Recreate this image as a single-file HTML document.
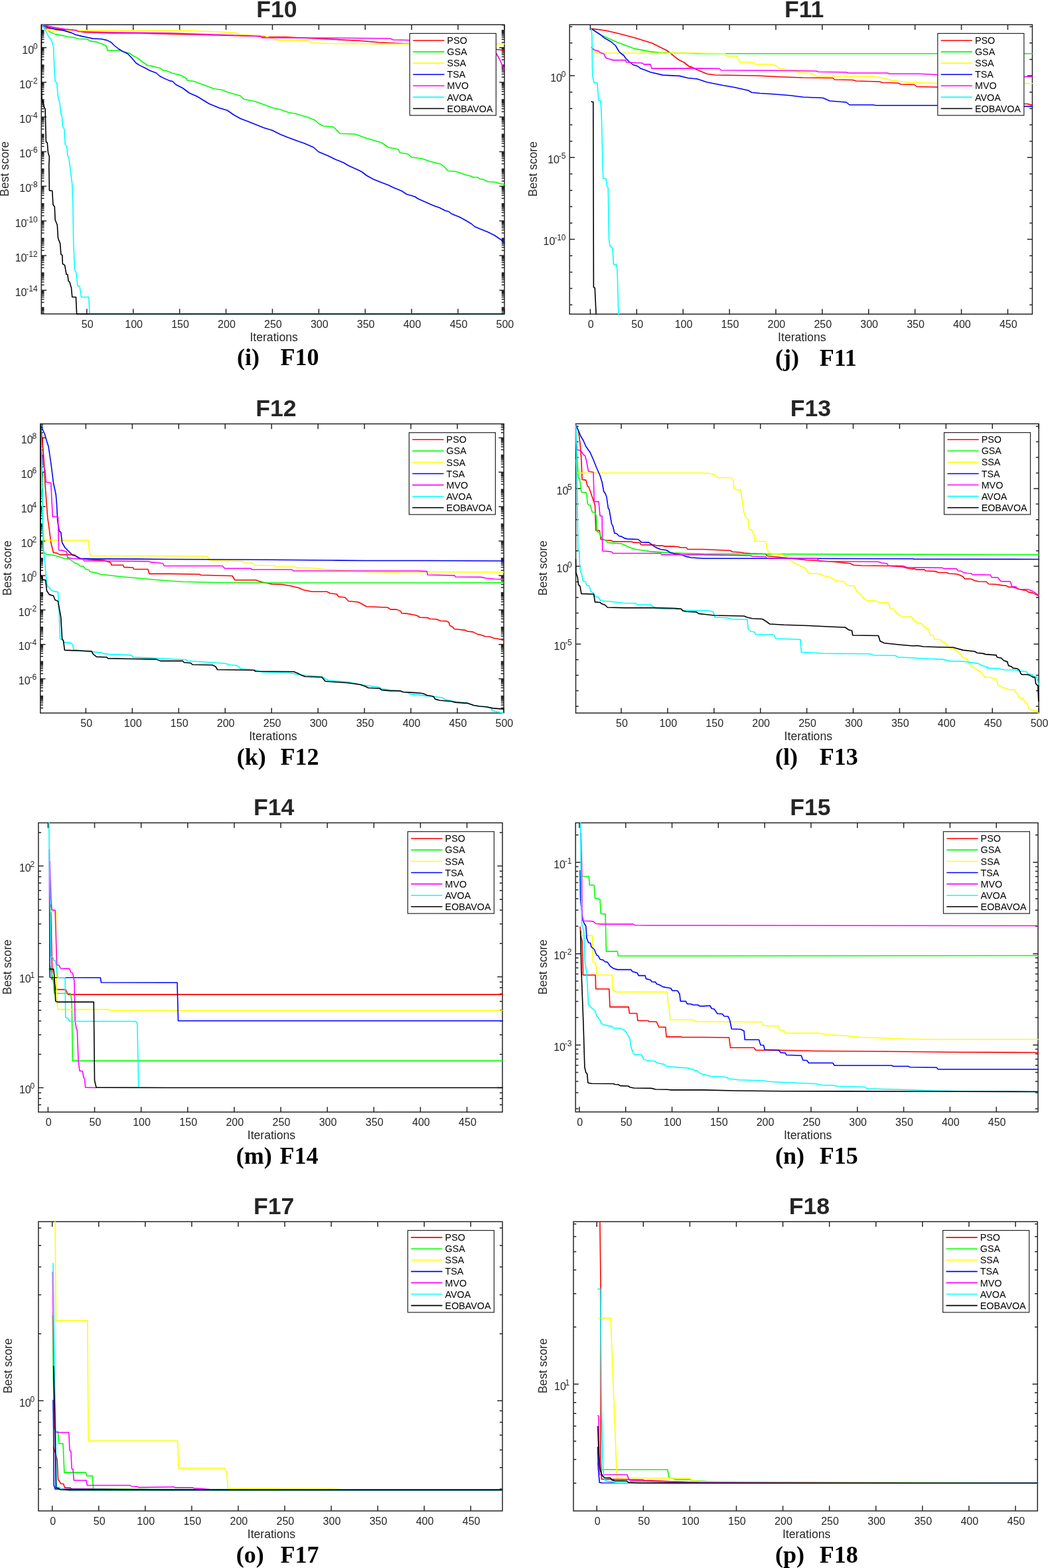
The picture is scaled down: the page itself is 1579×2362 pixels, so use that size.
<!DOCTYPE html>
<html><head><meta charset="utf-8"><title>Convergence curves F10-F18</title>
<style>html,body{margin:0;padding:0;background:#fff;overflow:hidden;}svg{display:block;}text{font-family:"Liberation Sans",Arial,sans-serif;fill:#262626;}.tk{font-size:16px;}.sup{font-size:12px;}.lab{font-size:17.6px;}.lg{font-size:14.3px;fill:#000;}.ti{font-size:35.6px;font-weight:bold;}.cap{font-family:"Liberation Serif","Times New Roman",serif;font-size:36px;font-weight:bold;fill:#000;}</style></head><body>
<svg width="1579" height="2362" viewBox="0 0 1579 2362">
<rect width="1579" height="2362" fill="#fff"/>
<clipPath id="c0"><rect x="61.5" y="36.4" width="699.3" height="437.3"/></clipPath>
<path d="M130.81 472.9V465.2M130.81 37.2V44.9M200.72 472.9V465.2M200.72 37.2V44.9M270.63 472.9V465.2M270.63 37.2V44.9M340.54 472.9V465.2M340.54 37.2V44.9M410.45 472.9V465.2M410.45 37.2V44.9M480.36 472.9V465.2M480.36 37.2V44.9M550.27 472.9V465.2M550.27 37.2V44.9M620.18 472.9V465.2M620.18 37.2V44.9M690.09 472.9V465.2M690.09 37.2V44.9M760 472.9V465.2M760 37.2V44.9M62.3 471.16H66.5M760 471.16H755.8M62.3 469.09H66.5M760 469.09H755.8M62.3 467.34H66.5M760 467.34H755.8M62.3 465.83H66.5M760 465.83H755.8M62.3 464.49H66.5M760 464.49H755.8M62.3 463.3H66.5M760 463.3H755.8M62.3 455.44H66.5M760 455.44H755.8M62.3 450.85H66.5M760 450.85H755.8M62.3 447.59H66.5M760 447.59H755.8M62.3 445.06H66.5M760 445.06H755.8M62.3 442.99H66.5M760 442.99H755.8M62.3 441.24H66.5M760 441.24H755.8M62.3 439.73H66.5M760 439.73H755.8M62.3 438.39H66.5M760 438.39H755.8M62.3 437.2H70M760 437.2H752.3M62.3 429.34H66.5M760 429.34H755.8M62.3 424.75H66.5M760 424.75H755.8M62.3 421.49H66.5M760 421.49H755.8M62.3 418.96H66.5M760 418.96H755.8M62.3 416.89H66.5M760 416.89H755.8M62.3 415.14H66.5M760 415.14H755.8M62.3 413.63H66.5M760 413.63H755.8M62.3 412.29H66.5M760 412.29H755.8M62.3 411.1H66.5M760 411.1H755.8M62.3 403.24H66.5M760 403.24H755.8M62.3 398.65H66.5M760 398.65H755.8M62.3 395.39H66.5M760 395.39H755.8M62.3 392.86H66.5M760 392.86H755.8M62.3 390.79H66.5M760 390.79H755.8M62.3 389.04H66.5M760 389.04H755.8M62.3 387.53H66.5M760 387.53H755.8M62.3 386.19H66.5M760 386.19H755.8M62.3 385H70M760 385H752.3M62.3 377.14H66.5M760 377.14H755.8M62.3 372.55H66.5M760 372.55H755.8M62.3 369.29H66.5M760 369.29H755.8M62.3 366.76H66.5M760 366.76H755.8M62.3 364.69H66.5M760 364.69H755.8M62.3 362.94H66.5M760 362.94H755.8M62.3 361.43H66.5M760 361.43H755.8M62.3 360.09H66.5M760 360.09H755.8M62.3 358.9H66.5M760 358.9H755.8M62.3 351.04H66.5M760 351.04H755.8M62.3 346.45H66.5M760 346.45H755.8M62.3 343.19H66.5M760 343.19H755.8M62.3 340.66H66.5M760 340.66H755.8M62.3 338.59H66.5M760 338.59H755.8M62.3 336.84H66.5M760 336.84H755.8M62.3 335.33H66.5M760 335.33H755.8M62.3 333.99H66.5M760 333.99H755.8M62.3 332.8H70M760 332.8H752.3M62.3 324.94H66.5M760 324.94H755.8M62.3 320.35H66.5M760 320.35H755.8M62.3 317.09H66.5M760 317.09H755.8M62.3 314.56H66.5M760 314.56H755.8M62.3 312.49H66.5M760 312.49H755.8M62.3 310.74H66.5M760 310.74H755.8M62.3 309.23H66.5M760 309.23H755.8M62.3 307.89H66.5M760 307.89H755.8M62.3 306.7H66.5M760 306.7H755.8M62.3 298.84H66.5M760 298.84H755.8M62.3 294.25H66.5M760 294.25H755.8M62.3 290.99H66.5M760 290.99H755.8M62.3 288.46H66.5M760 288.46H755.8M62.3 286.39H66.5M760 286.39H755.8M62.3 284.64H66.5M760 284.64H755.8M62.3 283.13H66.5M760 283.13H755.8M62.3 281.79H66.5M760 281.79H755.8M62.3 280.6H70M760 280.6H752.3M62.3 272.74H66.5M760 272.74H755.8M62.3 268.15H66.5M760 268.15H755.8M62.3 264.89H66.5M760 264.89H755.8M62.3 262.36H66.5M760 262.36H755.8M62.3 260.29H66.5M760 260.29H755.8M62.3 258.54H66.5M760 258.54H755.8M62.3 257.03H66.5M760 257.03H755.8M62.3 255.69H66.5M760 255.69H755.8M62.3 254.5H66.5M760 254.5H755.8M62.3 246.64H66.5M760 246.64H755.8M62.3 242.05H66.5M760 242.05H755.8M62.3 238.79H66.5M760 238.79H755.8M62.3 236.26H66.5M760 236.26H755.8M62.3 234.19H66.5M760 234.19H755.8M62.3 232.44H66.5M760 232.44H755.8M62.3 230.93H66.5M760 230.93H755.8M62.3 229.59H66.5M760 229.59H755.8M62.3 228.4H70M760 228.4H752.3M62.3 220.54H66.5M760 220.54H755.8M62.3 215.95H66.5M760 215.95H755.8M62.3 212.69H66.5M760 212.69H755.8M62.3 210.16H66.5M760 210.16H755.8M62.3 208.09H66.5M760 208.09H755.8M62.3 206.34H66.5M760 206.34H755.8M62.3 204.83H66.5M760 204.83H755.8M62.3 203.49H66.5M760 203.49H755.8M62.3 202.3H66.5M760 202.3H755.8M62.3 194.44H66.5M760 194.44H755.8M62.3 189.85H66.5M760 189.85H755.8M62.3 186.59H66.5M760 186.59H755.8M62.3 184.06H66.5M760 184.06H755.8M62.3 181.99H66.5M760 181.99H755.8M62.3 180.24H66.5M760 180.24H755.8M62.3 178.73H66.5M760 178.73H755.8M62.3 177.39H66.5M760 177.39H755.8M62.3 176.2H70M760 176.2H752.3M62.3 168.34H66.5M760 168.34H755.8M62.3 163.75H66.5M760 163.75H755.8M62.3 160.49H66.5M760 160.49H755.8M62.3 157.96H66.5M760 157.96H755.8M62.3 155.89H66.5M760 155.89H755.8M62.3 154.14H66.5M760 154.14H755.8M62.3 152.63H66.5M760 152.63H755.8M62.3 151.29H66.5M760 151.29H755.8M62.3 150.1H66.5M760 150.1H755.8M62.3 142.24H66.5M760 142.24H755.8M62.3 137.65H66.5M760 137.65H755.8M62.3 134.39H66.5M760 134.39H755.8M62.3 131.86H66.5M760 131.86H755.8M62.3 129.79H66.5M760 129.79H755.8M62.3 128.04H66.5M760 128.04H755.8M62.3 126.53H66.5M760 126.53H755.8M62.3 125.19H66.5M760 125.19H755.8M62.3 124H70M760 124H752.3M62.3 116.14H66.5M760 116.14H755.8M62.3 111.55H66.5M760 111.55H755.8M62.3 108.29H66.5M760 108.29H755.8M62.3 105.76H66.5M760 105.76H755.8M62.3 103.69H66.5M760 103.69H755.8M62.3 101.94H66.5M760 101.94H755.8M62.3 100.43H66.5M760 100.43H755.8M62.3 99.09H66.5M760 99.09H755.8M62.3 97.9H66.5M760 97.9H755.8M62.3 90.04H66.5M760 90.04H755.8M62.3 85.45H66.5M760 85.45H755.8M62.3 82.19H66.5M760 82.19H755.8M62.3 79.66H66.5M760 79.66H755.8M62.3 77.59H66.5M760 77.59H755.8M62.3 75.84H66.5M760 75.84H755.8M62.3 74.33H66.5M760 74.33H755.8M62.3 72.99H66.5M760 72.99H755.8M62.3 71.8H70M760 71.8H752.3M62.3 63.94H66.5M760 63.94H755.8M62.3 59.35H66.5M760 59.35H755.8M62.3 56.09H66.5M760 56.09H755.8M62.3 53.56H66.5M760 53.56H755.8M62.3 51.49H66.5M760 51.49H755.8M62.3 49.74H66.5M760 49.74H755.8M62.3 48.23H66.5M760 48.23H755.8M62.3 46.89H66.5M760 46.89H755.8M62.3 45.7H66.5M760 45.7H755.8M62.3 37.84H66.5M760 37.84H755.8" stroke="#262626" stroke-width="1.5" fill="none"/>
<rect x="62.3" y="37.2" width="697.7" height="435.7" fill="none" stroke="#262626" stroke-width="1.5"/>
<g clip-path="url(#c0)" fill="none" stroke-width="1.6" stroke-linejoin="round" stroke-linecap="round">
<polyline points="62.5,37.25 67.5,41.88 85,43.75 116.25,46.25 127.5,48.75 170,50 210,50 235,50.62 256,51.25 310,52.5 385,54.5 400,55.5 430,55.75 490,58.75 540,61.25 570,63.75 617.5,66.25 747.5,74.5 760,75.5" stroke="#ff0000"/>
<polyline points="62.5,37.25 67.5,42.5 75,48.12 83.75,51.88 92.5,53.12 100,55 110,56.25 117.5,58.5 131.25,59 136.25,61.88 145,63.12 150,65 155,66.5 160.62,69.75 161.88,76 180,76 185,77.5 195,80 200,83.75 206.25,86.88 213.75,92.5 222.5,98.75 228.75,99.38 235,101.25 241.25,102.5 245,105.62 250,106.25 256,108.75 260,110.5 270,112.5 280,117.5 282.5,121.25 292.5,122.5 302.5,126.25 312.5,130 322.5,133.75 335,135.5 342.5,138.75 362.5,144.5 367.5,149.5 385,153 397.5,157.5 412.5,163 422.5,165 435,169.5 445,171.25 462.5,176.25 475,181.25 480,186.25 487.5,190 502.5,191.25 512.5,201.25 535,202 550,207.5 575,215 585,222 600,225 602.5,230 615,232 620,237 635,238.75 650,243.75 665,247.5 670,252 675,257.5 685,258 692.5,260 700,263 710,265.5 712.5,267 720,267 722.5,269.5 727.5,270 735,273.75 745,274.25 752.5,276.25 760,278" stroke="#00ff00"/>
<polyline points="62.5,37.25 67.5,43.75 72.5,46 256,46 285,46.25 330,48 355,49.5 360,52 397.5,54 400,54.5 407.5,57.5 422.5,61.25 462.5,61.25 470,64.5 505,65.75 617.5,66.25 747.5,66.25 760,66.25" stroke="#ffff00"/>
<polyline points="62.5,37.25 72.5,41.25 85,44.38 95,45.62 107.5,49.38 113.75,52.25 122.5,54.38 131.25,56.25 140,58.12 152.5,58.75 161.25,60.62 167.5,63.75 172.5,68.75 178.75,73.75 185,77.5 192.5,81 197.5,86.25 205,95 210,98.12 218.75,102.5 226.25,106.5 235,109.75 241.25,115 247.5,118.12 256,121.88 260,122.5 265,127.5 275,132.5 285,140 297.5,145.5 315,156.25 330,162.5 342.5,166.25 352.5,173.25 362.5,178.75 372.5,182.5 385,187.5 397.5,192.5 410,196.25 422.5,202.5 435,207.5 452,213.75 457.5,215.5 472.5,222 480,228.75 495,235 505,240 517.5,245 525,249.5 540,256.25 545,258.75 552.5,264.5 562.5,270 575,275 585,278.75 592.5,282.5 605,287.5 612.5,292.5 625,296.25 630,299.5 642.5,305 652.5,309.5 662.5,313 670,317 676.25,318.75 680,322 692.5,327 702.5,332.5 710,337 715,341.25 722.5,344.5 735,349.5 745,354.5 755,361.25 760,366.25" stroke="#0000ff"/>
<polyline points="62.5,37.25 72.5,39.38 85,41.88 97.5,43.75 115,45.62 117.5,47.5 170,48.75 210,49.38 256,49.75 335,52.5 392.5,54.5 395,57 400,57 450,57 540,57.5 587.5,58 592.5,60 615,60.5 745,77.5 747.5,80 752.5,88.75 756.25,97.5 760,104.5" stroke="#ff00ff"/>
<polyline points="62.5,37.25 67.5,43.75 72.5,53.75 76.25,58.75 78.75,63.75 80.62,71.25 81.88,105 83.12,122.5 85.62,125 87.5,146.25 90,155 91.88,171.88 93.12,172.5 94.38,190 96.88,195 98.12,217.5 100.62,220 101.88,235 103.75,237.5 105,247.5 108.75,277.5 110,312.5 110.62,362.5 112.5,405.62 115,411.25 116.88,430.62 120,431.25 122.5,447.5 133.75,447.5 135,472.62 760,472.6" stroke="#00ffff"/>
<polyline points="62.5,37.25 62.5,131.25 63.12,150 65,155 66.88,162.5 68.12,163.75 68.75,190 69.38,213.75 71.25,215 72.5,230 74.38,236.25 73.75,250 74.38,286.88 78.75,287.5 80,308.75 82.25,311.25 83.12,331.25 86.25,338.75 87.5,358.75 90.62,366.88 91.88,383.12 93.75,384.38 94.38,397.5 97.5,399.38 100,413.12 101.88,413.75 103.12,423.12 105,425 107.5,433.75 108.75,447.5 114.38,447.5 115.62,473.12 760,473.1" stroke="#000000"/>
</g>
<text x="131.71" y="493.7" class="tk" text-anchor="middle">50</text>
<text x="201.62" y="493.7" class="tk" text-anchor="middle">100</text>
<text x="271.53" y="493.7" class="tk" text-anchor="middle">150</text>
<text x="341.44" y="493.7" class="tk" text-anchor="middle">200</text>
<text x="411.35" y="493.7" class="tk" text-anchor="middle">250</text>
<text x="481.26" y="493.7" class="tk" text-anchor="middle">300</text>
<text x="551.17" y="493.7" class="tk" text-anchor="middle">350</text>
<text x="621.08" y="493.7" class="tk" text-anchor="middle">400</text>
<text x="690.99" y="493.7" class="tk" text-anchor="middle">450</text>
<text x="760.9" y="493.7" class="tk" text-anchor="middle">500</text>
<text x="56.6" y="80.6" class="tk" text-anchor="end">10<tspan dx="-1.2" dy="-7" class="sup">0</tspan></text>
<text x="56.6" y="132.8" class="tk" text-anchor="end">10<tspan dx="-1.2" dy="-7" class="sup">-2</tspan></text>
<text x="56.6" y="185" class="tk" text-anchor="end">10<tspan dx="-1.2" dy="-7" class="sup">-4</tspan></text>
<text x="56.6" y="237.2" class="tk" text-anchor="end">10<tspan dx="-1.2" dy="-7" class="sup">-6</tspan></text>
<text x="56.6" y="289.4" class="tk" text-anchor="end">10<tspan dx="-1.2" dy="-7" class="sup">-8</tspan></text>
<text x="56.6" y="341.6" class="tk" text-anchor="end">10<tspan dx="-1.2" dy="-7" class="sup">-10</tspan></text>
<text x="56.6" y="393.8" class="tk" text-anchor="end">10<tspan dx="-1.2" dy="-7" class="sup">-12</tspan></text>
<text x="56.6" y="446" class="tk" text-anchor="end">10<tspan dx="-1.2" dy="-7" class="sup">-14</tspan></text>
<text x="412.65" y="513.9" class="lab" text-anchor="middle">Iterations</text>
<text transform="translate(12.9 254.45) rotate(-90)" class="lab" text-anchor="middle">Best score</text>
<rect x="617.4" y="50.4" width="130" height="123.4" fill="#fff" stroke="#262626" stroke-width="1.2"/>
<path d="M622.3 61H669.5" stroke="#ff0000" stroke-width="1.6"/>
<text x="673.6" y="66.1" class="lg">PSO</text>
<path d="M622.3 78.08H669.5" stroke="#00ff00" stroke-width="1.6"/>
<text x="673.6" y="83.18" class="lg">GSA</text>
<path d="M622.3 95.16H669.5" stroke="#ffff00" stroke-width="1.6"/>
<text x="673.6" y="100.26" class="lg">SSA</text>
<path d="M622.3 112.24H669.5" stroke="#0000ff" stroke-width="1.6"/>
<text x="673.6" y="117.34" class="lg">TSA</text>
<path d="M622.3 129.32H669.5" stroke="#ff00ff" stroke-width="1.6"/>
<text x="673.6" y="134.42" class="lg">MVO</text>
<path d="M622.3 146.4H669.5" stroke="#00ffff" stroke-width="1.6"/>
<text x="673.6" y="151.5" class="lg">AVOA</text>
<path d="M622.3 163.48H669.5" stroke="#000000" stroke-width="1.6"/>
<text x="673.6" y="168.58" class="lg">EOBAVOA</text>
<text x="417" y="25.6" class="ti" text-anchor="middle">F10</text>
<text x="356.9" y="550.4" class="cap">(i)</text>
<text x="422.6" y="550.4" class="cap">F10</text>
<clipPath id="c1"><rect x="857.4" y="36.4" width="698.8" height="437.6"/></clipPath>
<path d="M889.4 473.2V465.5M889.4 37.2V44.9M959.29 473.2V465.5M959.29 37.2V44.9M1029.18 473.2V465.5M1029.18 37.2V44.9M1099.07 473.2V465.5M1099.07 37.2V44.9M1168.96 473.2V465.5M1168.96 37.2V44.9M1238.85 473.2V465.5M1238.85 37.2V44.9M1308.74 473.2V465.5M1308.74 37.2V44.9M1378.63 473.2V465.5M1378.63 37.2V44.9M1448.52 473.2V465.5M1448.52 37.2V44.9M1518.41 473.2V465.5M1518.41 37.2V44.9M858.2 459.2H862.4M1555.4 459.2H1551.2M858.2 434.55H862.4M1555.4 434.55H1551.2M858.2 409.9H862.4M1555.4 409.9H1551.2M858.2 385.25H862.4M1555.4 385.25H1551.2M858.2 360.6H865.9M1555.4 360.6H1547.7M858.2 335.95H862.4M1555.4 335.95H1551.2M858.2 311.3H862.4M1555.4 311.3H1551.2M858.2 286.65H862.4M1555.4 286.65H1551.2M858.2 262H862.4M1555.4 262H1551.2M858.2 237.35H865.9M1555.4 237.35H1547.7M858.2 212.7H862.4M1555.4 212.7H1551.2M858.2 188.05H862.4M1555.4 188.05H1551.2M858.2 163.4H862.4M1555.4 163.4H1551.2M858.2 138.75H862.4M1555.4 138.75H1551.2M858.2 114.1H865.9M1555.4 114.1H1547.7M858.2 89.45H862.4M1555.4 89.45H1551.2M858.2 64.8H862.4M1555.4 64.8H1551.2M858.2 40.15H862.4M1555.4 40.15H1551.2" stroke="#262626" stroke-width="1.5" fill="none"/>
<rect x="858.2" y="37.2" width="697.2" height="436" fill="none" stroke="#262626" stroke-width="1.5"/>
<g clip-path="url(#c1)" fill="none" stroke-width="1.6" stroke-linejoin="round" stroke-linecap="round">
<polyline points="890.62,43.12 912.5,46 930,50 957.5,57.25 982.5,65 1005,76.25 1022.5,90 1030,93.75 1040,101.25 1040,100 1050,105 1065,111.25 1077.5,113 1140,114 1175,115.75 1210,117 1255,117.5 1257.5,120 1285,120.5 1290,122 1325,123 1330,124.5 1352.5,125 1357.5,127 1377.5,127.5 1381.25,130.5 1412.5,131.25 1542.35,156.33 1547.96,156.53 1553.06,157.86 1555.61,158.37" stroke="#ff0000"/>
<polyline points="890.62,43.12 905,52.5 930,63.75 955,73.12 980,77.88 992.5,79.12 1051,80.62 1555.4,80.8" stroke="#00ff00"/>
<polyline points="892.5,72.5 895,78.12 902.5,80 1051,80 1092.5,80.75 1095,84.5 1110,84.5 1112.5,89.5 1115,93.75 1135,93.75 1137.5,96.75 1162.5,96.75 1170,99.5 1173.75,103 1185,104.5 1200,105.75 1203.75,109.5 1220,110 1230,114.5 1315,115 1330,117.5 1345,121.25 1370,124.25 1412.5,125.5 1555.4,125.7" stroke="#ffff00"/>
<polyline points="890.62,43.12 905,52.5 910,56.88 920,62.5 927.5,68.75 932.5,77.5 935,80 940,83.75 942.5,87.5 947.5,92.5 953.75,97.5 961.25,100 965,103.12 973.75,106.25 980,108.75 998.75,113.12 1023.75,114.38 1036.25,117.5 1051,119 1050,118.75 1065,123.75 1090,128.75 1105,131.25 1127.5,136.25 1132.5,139.25 1145,140.5 1165,141.75 1190,143.75 1210,146.25 1240,147.5 1250,152 1275,154 1280,158 1315,158 1320,158.75 1412.5,158.75 1555.4,160.4" stroke="#0000ff"/>
<polyline points="891.25,71.25 895,75 901.25,76.88 905,79.38 910,81.25 912.5,86.88 917.5,88.75 923.75,90.62 942.5,90.62 943.75,93.75 967.5,95 970,96.88 980,96.88 981.88,103.12 1051,103.12 1083.75,103.25 1086.25,105.75 1165,106.25 1230,107 1232.5,108.25 1275,108.75 1277.5,110 1337.5,110 1340,111.25 1385,111.25 1402.5,112 1412.5,112.5 1555.4,115.8" stroke="#ff00ff"/>
<polyline points="890.62,43.12 891.88,52.5 892.5,105 893.12,116.25 895,124.38 900,125 901.88,151.25 905,151.88 906.25,173.75 908.12,250 908.75,268.75 913.12,269.38 914.75,281.25 916.25,282.5 917.5,360 918.75,370 923.12,374.38 924.38,398.12 928.75,398.75 930,406.25 931.88,472.5 932.5,473.12" stroke="#00ffff"/>
<polyline points="891.25,153.12 893.75,153.75 894.38,432.5 896.25,433.75 898.12,473.12" stroke="#000000"/>
</g>
<text x="890.3" y="494" class="tk" text-anchor="middle">0</text>
<text x="960.19" y="494" class="tk" text-anchor="middle">50</text>
<text x="1030.08" y="494" class="tk" text-anchor="middle">100</text>
<text x="1099.97" y="494" class="tk" text-anchor="middle">150</text>
<text x="1169.86" y="494" class="tk" text-anchor="middle">200</text>
<text x="1239.75" y="494" class="tk" text-anchor="middle">250</text>
<text x="1309.64" y="494" class="tk" text-anchor="middle">300</text>
<text x="1379.53" y="494" class="tk" text-anchor="middle">350</text>
<text x="1449.42" y="494" class="tk" text-anchor="middle">400</text>
<text x="1519.31" y="494" class="tk" text-anchor="middle">450</text>
<text x="852.5" y="122.9" class="tk" text-anchor="end">10<tspan dx="-1.2" dy="-7" class="sup">0</tspan></text>
<text x="852.5" y="246.15" class="tk" text-anchor="end">10<tspan dx="-1.2" dy="-7" class="sup">-5</tspan></text>
<text x="852.5" y="369.4" class="tk" text-anchor="end">10<tspan dx="-1.2" dy="-7" class="sup">-10</tspan></text>
<text x="1208.3" y="514.2" class="lab" text-anchor="middle">Iterations</text>
<text transform="translate(808.9 254.6) rotate(-90)" class="lab" text-anchor="middle">Best score</text>
<rect x="1412.8" y="50.4" width="130" height="123.4" fill="#fff" stroke="#262626" stroke-width="1.2"/>
<path d="M1417.7 61H1464.9" stroke="#ff0000" stroke-width="1.6"/>
<text x="1469" y="66.1" class="lg">PSO</text>
<path d="M1417.7 78.08H1464.9" stroke="#00ff00" stroke-width="1.6"/>
<text x="1469" y="83.18" class="lg">GSA</text>
<path d="M1417.7 95.16H1464.9" stroke="#ffff00" stroke-width="1.6"/>
<text x="1469" y="100.26" class="lg">SSA</text>
<path d="M1417.7 112.24H1464.9" stroke="#0000ff" stroke-width="1.6"/>
<text x="1469" y="117.34" class="lg">TSA</text>
<path d="M1417.7 129.32H1464.9" stroke="#ff00ff" stroke-width="1.6"/>
<text x="1469" y="134.42" class="lg">MVO</text>
<path d="M1417.7 146.4H1464.9" stroke="#00ffff" stroke-width="1.6"/>
<text x="1469" y="151.5" class="lg">AVOA</text>
<path d="M1417.7 163.48H1464.9" stroke="#000000" stroke-width="1.6"/>
<text x="1469" y="168.58" class="lg">EOBAVOA</text>
<text x="1211.7" y="25.6" class="ti" text-anchor="middle">F11</text>
<text x="1168" y="550.7" class="cap">(j)</text>
<text x="1234.8" y="550.7" class="cap">F11</text>
<clipPath id="c2"><rect x="60" y="637.7" width="699.8" height="437.2"/></clipPath>
<path d="M129.36 1074.1V1066.4M129.36 638.5V646.2M199.32 1074.1V1066.4M199.32 638.5V646.2M269.28 1074.1V1066.4M269.28 638.5V646.2M339.24 1074.1V1066.4M339.24 638.5V646.2M409.2 1074.1V1066.4M409.2 638.5V646.2M479.16 1074.1V1066.4M479.16 638.5V646.2M549.12 1074.1V1066.4M549.12 638.5V646.2M619.08 1074.1V1066.4M619.08 638.5V646.2M689.04 1074.1V1066.4M689.04 638.5V646.2M759 1074.1V1066.4M759 638.5V646.2M60.8 1066.57H65M759 1066.57H754.8M60.8 1062.01H65M759 1062.01H754.8M60.8 1058.77H65M759 1058.77H754.8M60.8 1056.26H65M759 1056.26H754.8M60.8 1054.2H65M759 1054.2H754.8M60.8 1052.47H65M759 1052.47H754.8M60.8 1050.96H65M759 1050.96H754.8M60.8 1049.64H65M759 1049.64H754.8M60.8 1048.45H65M759 1048.45H754.8M60.8 1040.64H65M759 1040.64H754.8M60.8 1036.08H65M759 1036.08H754.8M60.8 1032.84H65M759 1032.84H754.8M60.8 1030.33H65M759 1030.33H754.8M60.8 1028.27H65M759 1028.27H754.8M60.8 1026.54H65M759 1026.54H754.8M60.8 1025.03H65M759 1025.03H754.8M60.8 1023.71H65M759 1023.71H754.8M60.8 1022.52H68.5M759 1022.52H751.3M60.8 1014.71H65M759 1014.71H754.8M60.8 1010.15H65M759 1010.15H754.8M60.8 1006.91H65M759 1006.91H754.8M60.8 1004.4H65M759 1004.4H754.8M60.8 1002.34H65M759 1002.34H754.8M60.8 1000.61H65M759 1000.61H754.8M60.8 999.1H65M759 999.1H754.8M60.8 997.78H65M759 997.78H754.8M60.8 996.59H65M759 996.59H754.8M60.8 988.78H65M759 988.78H754.8M60.8 984.22H65M759 984.22H754.8M60.8 980.98H65M759 980.98H754.8M60.8 978.47H65M759 978.47H754.8M60.8 976.41H65M759 976.41H754.8M60.8 974.68H65M759 974.68H754.8M60.8 973.17H65M759 973.17H754.8M60.8 971.85H65M759 971.85H754.8M60.8 970.66H68.5M759 970.66H751.3M60.8 962.85H65M759 962.85H754.8M60.8 958.29H65M759 958.29H754.8M60.8 955.05H65M759 955.05H754.8M60.8 952.54H65M759 952.54H754.8M60.8 950.48H65M759 950.48H754.8M60.8 948.75H65M759 948.75H754.8M60.8 947.24H65M759 947.24H754.8M60.8 945.92H65M759 945.92H754.8M60.8 944.73H65M759 944.73H754.8M60.8 936.92H65M759 936.92H754.8M60.8 932.36H65M759 932.36H754.8M60.8 929.12H65M759 929.12H754.8M60.8 926.61H65M759 926.61H754.8M60.8 924.55H65M759 924.55H754.8M60.8 922.82H65M759 922.82H754.8M60.8 921.31H65M759 921.31H754.8M60.8 919.99H65M759 919.99H754.8M60.8 918.8H68.5M759 918.8H751.3M60.8 910.99H65M759 910.99H754.8M60.8 906.43H65M759 906.43H754.8M60.8 903.19H65M759 903.19H754.8M60.8 900.68H65M759 900.68H754.8M60.8 898.62H65M759 898.62H754.8M60.8 896.89H65M759 896.89H754.8M60.8 895.38H65M759 895.38H754.8M60.8 894.06H65M759 894.06H754.8M60.8 892.87H65M759 892.87H754.8M60.8 885.06H65M759 885.06H754.8M60.8 880.5H65M759 880.5H754.8M60.8 877.26H65M759 877.26H754.8M60.8 874.75H65M759 874.75H754.8M60.8 872.69H65M759 872.69H754.8M60.8 870.96H65M759 870.96H754.8M60.8 869.45H65M759 869.45H754.8M60.8 868.13H65M759 868.13H754.8M60.8 866.94H68.5M759 866.94H751.3M60.8 859.13H65M759 859.13H754.8M60.8 854.57H65M759 854.57H754.8M60.8 851.33H65M759 851.33H754.8M60.8 848.82H65M759 848.82H754.8M60.8 846.76H65M759 846.76H754.8M60.8 845.03H65M759 845.03H754.8M60.8 843.52H65M759 843.52H754.8M60.8 842.2H65M759 842.2H754.8M60.8 841.01H65M759 841.01H754.8M60.8 833.2H65M759 833.2H754.8M60.8 828.64H65M759 828.64H754.8M60.8 825.4H65M759 825.4H754.8M60.8 822.89H65M759 822.89H754.8M60.8 820.83H65M759 820.83H754.8M60.8 819.1H65M759 819.1H754.8M60.8 817.59H65M759 817.59H754.8M60.8 816.27H65M759 816.27H754.8M60.8 815.08H68.5M759 815.08H751.3M60.8 807.27H65M759 807.27H754.8M60.8 802.71H65M759 802.71H754.8M60.8 799.47H65M759 799.47H754.8M60.8 796.96H65M759 796.96H754.8M60.8 794.9H65M759 794.9H754.8M60.8 793.17H65M759 793.17H754.8M60.8 791.66H65M759 791.66H754.8M60.8 790.34H65M759 790.34H754.8M60.8 789.15H65M759 789.15H754.8M60.8 781.34H65M759 781.34H754.8M60.8 776.78H65M759 776.78H754.8M60.8 773.54H65M759 773.54H754.8M60.8 771.03H65M759 771.03H754.8M60.8 768.97H65M759 768.97H754.8M60.8 767.24H65M759 767.24H754.8M60.8 765.73H65M759 765.73H754.8M60.8 764.41H65M759 764.41H754.8M60.8 763.22H68.5M759 763.22H751.3M60.8 755.41H65M759 755.41H754.8M60.8 750.85H65M759 750.85H754.8M60.8 747.61H65M759 747.61H754.8M60.8 745.1H65M759 745.1H754.8M60.8 743.04H65M759 743.04H754.8M60.8 741.31H65M759 741.31H754.8M60.8 739.8H65M759 739.8H754.8M60.8 738.48H65M759 738.48H754.8M60.8 737.29H65M759 737.29H754.8M60.8 729.48H65M759 729.48H754.8M60.8 724.92H65M759 724.92H754.8M60.8 721.68H65M759 721.68H754.8M60.8 719.17H65M759 719.17H754.8M60.8 717.11H65M759 717.11H754.8M60.8 715.38H65M759 715.38H754.8M60.8 713.87H65M759 713.87H754.8M60.8 712.55H65M759 712.55H754.8M60.8 711.36H68.5M759 711.36H751.3M60.8 703.55H65M759 703.55H754.8M60.8 698.99H65M759 698.99H754.8M60.8 695.75H65M759 695.75H754.8M60.8 693.24H65M759 693.24H754.8M60.8 691.18H65M759 691.18H754.8M60.8 689.45H65M759 689.45H754.8M60.8 687.94H65M759 687.94H754.8M60.8 686.62H65M759 686.62H754.8M60.8 685.43H65M759 685.43H754.8M60.8 677.62H65M759 677.62H754.8M60.8 673.06H65M759 673.06H754.8M60.8 669.82H65M759 669.82H754.8M60.8 667.31H65M759 667.31H754.8M60.8 665.25H65M759 665.25H754.8M60.8 663.52H65M759 663.52H754.8M60.8 662.01H65M759 662.01H754.8M60.8 660.69H65M759 660.69H754.8M60.8 659.5H68.5M759 659.5H751.3M60.8 651.69H65M759 651.69H754.8M60.8 647.13H65M759 647.13H754.8M60.8 643.89H65M759 643.89H754.8M60.8 641.38H65M759 641.38H754.8M60.8 639.32H65M759 639.32H754.8" stroke="#262626" stroke-width="1.5" fill="none"/>
<rect x="60.8" y="638.5" width="698.2" height="435.6" fill="none" stroke="#262626" stroke-width="1.5"/>
<g clip-path="url(#c2)" fill="none" stroke-width="1.6" stroke-linejoin="round" stroke-linecap="round">
<polyline points="60.75,640 63.62,661.25 66.12,692.5 68,730 69.88,755 71.75,780 74.25,797.5 76.75,817.5 78.62,825 80.5,832.5 85.5,833.12 90.5,835.62 111.75,835.62 115.5,838.75 120.5,841.25 130.5,842.5 158,844.38 166.75,847.5 168,851.25 185.5,851.25 186.75,854.38 200.5,855 201.75,857.5 223,857.5 224.88,864.38 254,864.38 300,865 302.5,866.25 350,867.5 353.75,873.75 385,873.75 395,877 410,880 425,880.5 437.5,882.5 450,885.5 457.5,888.75 470,891.25 492.5,891.25 497.5,893.75 507.5,895 510,898.75 520,900 525,905.5 540,907 552.5,913.75 582.5,915 583.75,915 588.75,918.12 597.5,918.12 603.75,920.62 605,923.75 613.75,924.38 623.75,926.25 628.75,927.5 632.5,930 645,930.62 647.5,932.25 657.5,932.75 663.75,935.25 672.5,935.62 676.25,937.5 677.5,941.88 682.5,945 684.38,947.5 701.25,949.38 703.75,951 712.5,951.88 720,955.62 723.75,956.25 731.25,958.75 737.5,959 743.75,961.25 750,962.25 758.75,964.38" stroke="#ff0000"/>
<polyline points="60.75,640 63,692.5 64.88,805 65.5,831.25 69.25,835 80.5,836.25 89.25,838.75 96.75,841.25 105.5,842.5 111.75,847.5 118,850 120.5,852.5 125.5,853.12 129.25,857.5 134.25,858.75 135.5,861.25 145.5,863.12 150.5,865 183,868.75 254,875 275,876.25 325,877.5 400,878 642,878 758.75,877.75" stroke="#00ff00"/>
<polyline points="61.5,703.75 66.12,812.5 66.75,813.75 133,813.75 134.25,827.5 136.12,837.5 254,837.5 312.5,838 316.25,844.25 337.5,845 365,845.5 367.5,848 380,848 383.75,851.75 412.5,851.75 416.25,853.75 445,854.25 447.5,855.5 470,855.5 487.5,857.5 500,858.25 525,859.5 550,861.25 600,862 570,861.25 758.75,861.88" stroke="#ffff00"/>
<polyline points="60.75,640 67.38,653.75 70.5,665 73,672.5 76.75,697.5 80.5,727.5 84.25,745 85.5,760 86.75,785 89.25,800 91.75,801.88 93.62,817.5 98,825 103,830 109.25,836.25 114.25,837.5 120.5,841.25 145.5,841.88 208,842.12 254,842.5 375,843 500,844 550,844.5 642,844.5 759,845" stroke="#0000ff"/>
<polyline points="60.75,666.25 65.5,701.25 68,708.75 69.25,726.25 76.75,727.5 79.25,778.12 87.38,778.75 88.62,828.75 95.5,829.38 100.5,831.25 101.75,840 108,841.25 125.5,842.5 126.75,845 158,845 224.25,845.62 226.75,846.88 235.5,847.5 245.5,848.75 247.38,852.5 254,852.5 335,852.5 338.75,856.25 377.5,856.25 380,858 440,858 442,860 525,860 570,860 628.75,860 643.12,860.62 644.38,866 685,866.88 686.25,869 725,869.38 732.5,871 745,872.25 758.75,872.5" stroke="#ff00ff"/>
<polyline points="60.75,640 62.38,673.75 64.25,780 65.5,828.75 68,850 69.88,875 71.75,883.75 74.25,885 78,890 87.38,891.88 89.25,925 90.5,962.5 94.25,963.75 96.75,967.5 105.5,968.12 109.25,970.62 111.12,978.75 138,981.88 153,983.12 155.5,984.38 164.25,985.62 198,986.88 200.5,990 214.25,990.62 254,992.5 280,993.75 282.5,995.5 312.5,997.5 340,999.5 345,1001.25 357.5,1002.5 362.5,1007.5 385,1009.5 395,1012.5 412.5,1013 437.5,1013.75 450,1016.25 462.5,1017.5 485,1019.5 490,1022.5 495,1025 525,1027.5 547.5,1032 570,1035 575,1037.5 585,1039 602.5,1041.25 615,1043.5 617.5,1045.62 632.5,1046.88 640,1048.12 651.25,1048.75 667.5,1051.25 670,1053.75 682.5,1056.25 705,1059.38 713.75,1062.5 722.5,1064 732.5,1064.75 740,1066.25 741.25,1070 750,1072.5 758.75,1074.38" stroke="#00ffff"/>
<polyline points="61,640 60.75,865 64.25,873.12 68.62,873.75 70.5,890 74.25,895.62 80.5,897.5 83,903.75 87.38,905.62 91.75,930 93.62,962.5 95.5,965 97.38,979.38 138,981 140.5,985.62 145.5,989.38 160.5,990 163,991.88 198,992.5 235.5,993.12 241.75,995.62 254,995.62 275,995.5 277.5,998 287.5,998.75 290,1001.25 320,1001.75 325,1004.25 327.5,1008.75 382.5,1009.5 385,1011.25 442.5,1011.75 447.5,1013.75 455,1017.5 460,1019.25 485,1020 490,1026.25 525,1028.75 542.5,1031.25 550,1033.75 555,1036.25 572.5,1037 572.5,1037.5 575,1039.38 587.5,1040.62 602.5,1040.62 607.5,1042.5 620,1043.12 632.5,1044 637.5,1044.75 643.75,1047.5 651.25,1048.75 653.75,1050 655.62,1053.12 662.5,1055 673.75,1056 680,1056.5 686.25,1058.12 705,1059.38 713.75,1062.5 722.5,1064 732.5,1064.75 742.5,1066.88 758.75,1068.12" stroke="#000000"/>
</g>
<text x="130.26" y="1094.9" class="tk" text-anchor="middle">50</text>
<text x="200.22" y="1094.9" class="tk" text-anchor="middle">100</text>
<text x="270.18" y="1094.9" class="tk" text-anchor="middle">150</text>
<text x="340.14" y="1094.9" class="tk" text-anchor="middle">200</text>
<text x="410.1" y="1094.9" class="tk" text-anchor="middle">250</text>
<text x="480.06" y="1094.9" class="tk" text-anchor="middle">300</text>
<text x="550.02" y="1094.9" class="tk" text-anchor="middle">350</text>
<text x="619.98" y="1094.9" class="tk" text-anchor="middle">400</text>
<text x="689.94" y="1094.9" class="tk" text-anchor="middle">450</text>
<text x="759.9" y="1094.9" class="tk" text-anchor="middle">500</text>
<text x="55.1" y="668.3" class="tk" text-anchor="end">10<tspan dx="-1.2" dy="-7" class="sup">8</tspan></text>
<text x="55.1" y="720.16" class="tk" text-anchor="end">10<tspan dx="-1.2" dy="-7" class="sup">6</tspan></text>
<text x="55.1" y="772.02" class="tk" text-anchor="end">10<tspan dx="-1.2" dy="-7" class="sup">4</tspan></text>
<text x="55.1" y="823.88" class="tk" text-anchor="end">10<tspan dx="-1.2" dy="-7" class="sup">2</tspan></text>
<text x="55.1" y="875.74" class="tk" text-anchor="end">10<tspan dx="-1.2" dy="-7" class="sup">0</tspan></text>
<text x="55.1" y="927.6" class="tk" text-anchor="end">10<tspan dx="-1.2" dy="-7" class="sup">-2</tspan></text>
<text x="55.1" y="979.46" class="tk" text-anchor="end">10<tspan dx="-1.2" dy="-7" class="sup">-4</tspan></text>
<text x="55.1" y="1031.32" class="tk" text-anchor="end">10<tspan dx="-1.2" dy="-7" class="sup">-6</tspan></text>
<text x="411.4" y="1115.1" class="lab" text-anchor="middle">Iterations</text>
<text transform="translate(17.1 855.7) rotate(-90)" class="lab" text-anchor="middle">Best score</text>
<rect x="616.4" y="651.7" width="130" height="123.4" fill="#fff" stroke="#262626" stroke-width="1.2"/>
<path d="M621.3 662.3H668.5" stroke="#ff0000" stroke-width="1.6"/>
<text x="672.6" y="667.4" class="lg">PSO</text>
<path d="M621.3 679.38H668.5" stroke="#00ff00" stroke-width="1.6"/>
<text x="672.6" y="684.48" class="lg">GSA</text>
<path d="M621.3 696.46H668.5" stroke="#ffff00" stroke-width="1.6"/>
<text x="672.6" y="701.56" class="lg">SSA</text>
<path d="M621.3 713.54H668.5" stroke="#0000ff" stroke-width="1.6"/>
<text x="672.6" y="718.64" class="lg">TSA</text>
<path d="M621.3 730.62H668.5" stroke="#ff00ff" stroke-width="1.6"/>
<text x="672.6" y="735.72" class="lg">MVO</text>
<path d="M621.3 747.7H668.5" stroke="#00ffff" stroke-width="1.6"/>
<text x="672.6" y="752.8" class="lg">AVOA</text>
<path d="M621.3 764.78H668.5" stroke="#000000" stroke-width="1.6"/>
<text x="672.6" y="769.88" class="lg">EOBAVOA</text>
<text x="415.9" y="626.9" class="ti" text-anchor="middle">F12</text>
<text x="356.7" y="1151.6" class="cap">(k)</text>
<text x="422.6" y="1151.6" class="cap">F12</text>
<clipPath id="c3"><rect x="866.7" y="637.6" width="699.2" height="437.3"/></clipPath>
<path d="M936 1074.1V1066.4M936 638.4V646.1M1005.9 1074.1V1066.4M1005.9 638.4V646.1M1075.8 1074.1V1066.4M1075.8 638.4V646.1M1145.7 1074.1V1066.4M1145.7 638.4V646.1M1215.6 1074.1V1066.4M1215.6 638.4V646.1M1285.5 1074.1V1066.4M1285.5 638.4V646.1M1355.4 1074.1V1066.4M1355.4 638.4V646.1M1425.3 1074.1V1066.4M1425.3 638.4V646.1M1495.2 1074.1V1066.4M1495.2 638.4V646.1M1565.1 1074.1V1066.4M1565.1 638.4V646.1M867.5 1064.06H871.7M1565.1 1064.06H1560.9M867.5 1040.62H871.7M1565.1 1040.62H1560.9M867.5 1017.18H871.7M1565.1 1017.18H1560.9M867.5 993.74H871.7M1565.1 993.74H1560.9M867.5 970.3H875.2M1565.1 970.3H1557.4M867.5 946.86H871.7M1565.1 946.86H1560.9M867.5 923.42H871.7M1565.1 923.42H1560.9M867.5 899.98H871.7M1565.1 899.98H1560.9M867.5 876.54H871.7M1565.1 876.54H1560.9M867.5 853.1H875.2M1565.1 853.1H1557.4M867.5 829.66H871.7M1565.1 829.66H1560.9M867.5 806.22H871.7M1565.1 806.22H1560.9M867.5 782.78H871.7M1565.1 782.78H1560.9M867.5 759.34H871.7M1565.1 759.34H1560.9M867.5 735.9H875.2M1565.1 735.9H1557.4M867.5 712.46H871.7M1565.1 712.46H1560.9M867.5 689.02H871.7M1565.1 689.02H1560.9M867.5 665.58H871.7M1565.1 665.58H1560.9M867.5 642.14H871.7M1565.1 642.14H1560.9" stroke="#262626" stroke-width="1.5" fill="none"/>
<rect x="867.5" y="638.4" width="697.6" height="435.7" fill="none" stroke="#262626" stroke-width="1.5"/>
<g clip-path="url(#c3)" fill="none" stroke-width="1.6" stroke-linejoin="round" stroke-linecap="round">
<polyline points="867.5,640 871.5,648.75 874,667.5 875.88,692.5 877.12,722.5 882.75,723.12 885.25,732.5 887.12,733.75 890.25,742.5 894,753.75 896.5,761.25 897.75,798.75 903.38,799.38 905.25,812.5 912.75,813.75 921.5,814.38 923.38,815.62 951.5,816 954,817.12 964,817.5 965.88,820.62 986.5,820.88 989,821.88 999,822.12 1000.25,822.88 1014,823.12 1022.75,823.75 1024,824.62 1034,824.75 1036.5,827.5 1060,827.5 1086,828.75 1099.75,829.25 1103.5,831.25 1116,832 1121,833 1131,833.75 1153.5,834.5 1156,837.5 1186,840.5 1216,843.75 1231,844.5 1256,846.25 1281,848.75 1286,851.25 1298.5,852 1338.5,852.5 1358.5,853.75 1368.5,856.25 1376,857.25 1376,856.25 1381,858.12 1392.88,858.12 1394.75,860 1408.5,860.62 1414.75,862.5 1426,862.5 1429.75,864 1441,864.75 1446,866.25 1451,868.75 1453.5,871.88 1463.5,872.25 1468.5,874.75 1474.75,876 1486,876.25 1489.75,879.75 1499.75,880.25 1511,881.88 1516,882.25 1519.75,884.38 1526,884.38 1532.25,886.25 1538.5,888.5 1546,889.38 1549.75,891.88 1556,893.12 1561,895.62 1565.38,897.75" stroke="#ff0000"/>
<polyline points="867.5,640 869,680 871.5,720 873.38,721.25 875.88,741.25 882.75,741.88 884,745 885.25,758.75 887.12,760.62 889.62,761.25 892.12,771.25 896.5,772.5 898.38,777.5 899.62,801.25 903.38,801.88 905.25,808.75 909,812.5 914,815 915.25,817.5 924,818.12 936.5,819 941.5,821.25 946.5,823.75 951.5,825.62 957.75,827.5 966.5,828.75 979,830.62 995.25,831.88 1014,833.12 1060,834.38 1565.1,835.6" stroke="#00ff00"/>
<polyline points="868.38,692.5 869,712.5 1060,712.5 1068.5,713 1076,715 1081,719.5 1101,719.5 1104.75,722.5 1106,736.25 1109.75,738 1116,738 1118.5,755 1121,772.5 1123.5,778.75 1127.25,782.5 1128.5,797.5 1132.25,798 1136,805 1137.25,815.5 1153.5,815.5 1156,827.5 1158.5,833 1166,834.5 1178.5,835.5 1186,838.75 1191,845 1196,847.5 1206,852.5 1213.5,856.25 1218.5,863.75 1236,864.5 1241,867.5 1251,869.5 1258.5,874.5 1271,876.25 1276,882 1287.25,882.5 1291,891.25 1296,895.5 1301,901.25 1306,904.5 1318.5,905 1326,907.5 1338.5,908 1341,916.25 1346,917.5 1351,923.75 1358.5,928.75 1373.5,929.25 1376,933.12 1381,937.5 1388.5,939.38 1391.62,943.75 1396,946.88 1399.12,947.5 1401,956.88 1406,957.25 1407.88,963.12 1417.25,963.5 1419.12,967.12 1423.5,967.75 1427.25,972.5 1431,976.25 1438.5,978.12 1444.75,983.75 1448.5,987.5 1451,991.25 1456,991.5 1459.75,997.5 1462.25,1002.5 1479,1013.39 1480.91,1016.58 1484.1,1020.09 1493.67,1020.54 1495.58,1022.32 1501.32,1022.96 1503.87,1032.53 1508.34,1033.8 1510.25,1036.03 1517.27,1036.99 1519.18,1038.58 1528.74,1038.78 1530.02,1042.73 1533.21,1045.28 1534.48,1049.43 1536.4,1050.38 1537.67,1051.98 1541.5,1051.98 1543.41,1056.76 1546.6,1058.67 1550.43,1067.92 1554.26,1069.52 1561.91,1070.79 1564.78,1073.98" stroke="#ffff00"/>
<polyline points="867.5,640 871.5,648.75 875.25,657.5 879,663.75 882.75,672.5 889,681.25 894,692.5 899,705 904,716.25 907.12,726.25 909.62,740 912.12,743.75 914,748.75 916.5,766.25 917.75,766.88 921.5,788.75 923.38,792.5 925.88,803.12 929,803.75 932.75,807.5 936.5,808.12 940.25,810.62 945.25,811.88 961.5,812.5 966.5,816.88 977.75,817.12 984,821.88 989,825 995.25,827.5 1004,828.75 1010.25,832.5 1017.75,834.38 1026.5,835.62 1032.75,838.12 1041.5,840 1060,841.25 1181,841.25 1376,841.75 1376,842.12 1565.38,842.5" stroke="#0000ff"/>
<polyline points="867.5,656.25 869.62,677.5 875.25,678.75 879,685 881.5,686.25 884,696.25 886.5,710 894,711.25 895.25,755.62 902.12,755.62 904,776.88 907.12,777.5 907.75,830 916.5,830.62 921.5,831.25 923.38,833.5 995.25,833.5 997.12,835.62 1060,835.62 1131,837 1133.5,838 1153.5,838.75 1156,840.75 1231,841.25 1234.75,845.5 1323.5,846.25 1328.5,848 1336,848.75 1338.5,852 1361,852.5 1366,854.5 1376,855 1376,854.75 1419.75,855.38 1422.25,856.62 1441,856.62 1443.5,860 1448.5,860.25 1451,862.25 1457.25,863.5 1463.5,863.75 1464.75,865.62 1492.25,866 1494.12,869.62 1503.5,870 1507.88,875.62 1522.25,876 1524.75,883.5 1531,884 1533.5,887.5 1548.5,887.75 1556,890.62 1565.38,896.88" stroke="#ff00ff"/>
<polyline points="867.5,640 869,692.5 870.25,780 870.88,827.5 872.75,830 873.38,850 874.62,861.25 876.5,865 878.38,875 882.12,876.25 884,881.88 887.75,882.5 890.25,891.25 894,893.12 896.5,898.75 901.5,899.38 905.25,905 919,906 931.5,907.5 939,908.5 957.75,908.75 960.25,911 980.25,911 986.5,915.62 1001.5,917.25 1026.5,917.5 1029,919.38 1060,919.75 1068.5,920 1074.75,922 1077.25,930 1096,930.75 1101,932.5 1126,933.25 1127.25,947.5 1131,951.25 1136,951.75 1138.5,955.5 1166,956.25 1168.5,962 1206,963.25 1207.25,982.5 1241,984.25 1311,985 1316,987 1348.5,987.5 1353.5,990 1366,990.5 1386,991.75 1401,992.5 1419.75,993.12 1431,995.88 1451,996.25 1463.5,998.12 1473.5,999.38 1479.75,1002.5 1488.5,1005 1486.65,1006.38 1504.51,1007.02 1512.8,1008.93 1530.02,1009.25 1535.12,1010.52 1546.6,1011.8 1548.52,1014.99 1554.89,1015.94 1557.44,1019.13 1561.91,1019.77 1565.1,1030.61" stroke="#00ffff"/>
<polyline points="867.5,842.5 867.75,862.5 870.25,870 871.5,880.62 874,883.12 875.88,894.38 894.62,895 896.5,906.88 904,907.5 906.5,909.38 911.5,911.25 915.25,915 941.5,915.62 986.5,915.62 1014,916.25 1026.5,917.25 1028.38,920 1034,921.25 1049,921.88 1052.75,924.38 1060,925.25 1076,927 1121,928 1126,930 1133.5,931.75 1148.5,932.5 1153.5,935.5 1159.75,940 1181,941.25 1218.5,942.5 1243.5,943.75 1273.5,945 1278.5,948.75 1283.5,950 1284.75,957 1323.5,957.5 1326,965.75 1332.25,968.75 1356,971.25 1376,973 1382.25,972.5 1391,974 1413.5,974.75 1436,975.25 1451,979.38 1468.5,981.25 1472.25,983.5 1481,984.38 1484.75,985.62 1501,986.88 1502.25,990 1508.5,991.25 1512.25,995 1517.88,996.88 1518.54,1000 1519.82,1002.87 1523.64,1003.95 1526.19,1006.38 1531.93,1007.02 1535.12,1008.61 1536.4,1010.84 1538.31,1015.31 1540.22,1016.26 1547.88,1016.26 1551.07,1017.09 1554.89,1019.13 1556.81,1020.28 1559.36,1020.41 1560.63,1029.97 1563.82,1033.16 1564.78,1056.12" stroke="#000000"/>
</g>
<text x="936.9" y="1094.9" class="tk" text-anchor="middle">50</text>
<text x="1006.8" y="1094.9" class="tk" text-anchor="middle">100</text>
<text x="1076.7" y="1094.9" class="tk" text-anchor="middle">150</text>
<text x="1146.6" y="1094.9" class="tk" text-anchor="middle">200</text>
<text x="1216.5" y="1094.9" class="tk" text-anchor="middle">250</text>
<text x="1286.4" y="1094.9" class="tk" text-anchor="middle">300</text>
<text x="1356.3" y="1094.9" class="tk" text-anchor="middle">350</text>
<text x="1426.2" y="1094.9" class="tk" text-anchor="middle">400</text>
<text x="1496.1" y="1094.9" class="tk" text-anchor="middle">450</text>
<text x="1566" y="1094.9" class="tk" text-anchor="middle">500</text>
<text x="861.8" y="744.7" class="tk" text-anchor="end">10<tspan dx="-1.2" dy="-7" class="sup">5</tspan></text>
<text x="861.8" y="861.9" class="tk" text-anchor="end">10<tspan dx="-1.2" dy="-7" class="sup">0</tspan></text>
<text x="861.8" y="979.1" class="tk" text-anchor="end">10<tspan dx="-1.2" dy="-7" class="sup">-5</tspan></text>
<text x="1217.8" y="1115.1" class="lab" text-anchor="middle">Iterations</text>
<text transform="translate(823.6 855.65) rotate(-90)" class="lab" text-anchor="middle">Best score</text>
<rect x="1422.5" y="651.6" width="130" height="123.4" fill="#fff" stroke="#262626" stroke-width="1.2"/>
<path d="M1427.4 662.2H1474.6" stroke="#ff0000" stroke-width="1.6"/>
<text x="1478.7" y="667.3" class="lg">PSO</text>
<path d="M1427.4 679.28H1474.6" stroke="#00ff00" stroke-width="1.6"/>
<text x="1478.7" y="684.38" class="lg">GSA</text>
<path d="M1427.4 696.36H1474.6" stroke="#ffff00" stroke-width="1.6"/>
<text x="1478.7" y="701.46" class="lg">SSA</text>
<path d="M1427.4 713.44H1474.6" stroke="#0000ff" stroke-width="1.6"/>
<text x="1478.7" y="718.54" class="lg">TSA</text>
<path d="M1427.4 730.52H1474.6" stroke="#ff00ff" stroke-width="1.6"/>
<text x="1478.7" y="735.62" class="lg">MVO</text>
<path d="M1427.4 747.6H1474.6" stroke="#00ffff" stroke-width="1.6"/>
<text x="1478.7" y="752.7" class="lg">AVOA</text>
<path d="M1427.4 764.68H1474.6" stroke="#000000" stroke-width="1.6"/>
<text x="1478.7" y="769.78" class="lg">EOBAVOA</text>
<text x="1221.5" y="626.8" class="ti" text-anchor="middle">F13</text>
<text x="1168" y="1151.6" class="cap">(l)</text>
<text x="1234.8" y="1151.6" class="cap">F13</text>
<clipPath id="c4"><rect x="57.1" y="1238.7" width="700.7" height="437.3"/></clipPath>
<path d="M72.4 1675.2V1667.5M72.4 1239.5V1247.2M142.53 1675.2V1667.5M142.53 1239.5V1247.2M212.66 1675.2V1667.5M212.66 1239.5V1247.2M282.79 1675.2V1667.5M282.79 1239.5V1247.2M352.92 1675.2V1667.5M352.92 1239.5V1247.2M423.05 1675.2V1667.5M423.05 1239.5V1247.2M493.18 1675.2V1667.5M493.18 1239.5V1247.2M563.31 1675.2V1667.5M563.31 1239.5V1247.2M633.44 1675.2V1667.5M633.44 1239.5V1247.2M703.57 1675.2V1667.5M703.57 1239.5V1247.2M57.9 1664.37H62.1M757 1664.37H752.8M57.9 1654.68H62.1M757 1654.68H752.8M57.9 1646.14H62.1M757 1646.14H752.8M57.9 1638.5H65.6M757 1638.5H749.3M57.9 1588.23H62.1M757 1588.23H752.8M57.9 1558.82H62.1M757 1558.82H752.8M57.9 1537.96H62.1M757 1537.96H752.8M57.9 1521.77H62.1M757 1521.77H752.8M57.9 1508.55H62.1M757 1508.55H752.8M57.9 1497.37H62.1M757 1497.37H752.8M57.9 1487.68H62.1M757 1487.68H752.8M57.9 1479.14H62.1M757 1479.14H752.8M57.9 1471.5H65.6M757 1471.5H749.3M57.9 1421.23H62.1M757 1421.23H752.8M57.9 1391.82H62.1M757 1391.82H752.8M57.9 1370.96H62.1M757 1370.96H752.8M57.9 1354.77H62.1M757 1354.77H752.8M57.9 1341.55H62.1M757 1341.55H752.8M57.9 1330.37H62.1M757 1330.37H752.8M57.9 1320.68H62.1M757 1320.68H752.8M57.9 1312.14H62.1M757 1312.14H752.8M57.9 1304.5H65.6M757 1304.5H749.3M57.9 1254.23H62.1M757 1254.23H752.8" stroke="#262626" stroke-width="1.5" fill="none"/>
<rect x="57.9" y="1239.5" width="699.1" height="435.7" fill="none" stroke="#262626" stroke-width="1.5"/>
<g clip-path="url(#c4)" fill="none" stroke-width="1.6" stroke-linejoin="round" stroke-linecap="round">
<polyline points="76.25,1362.5 76.9,1380 78.5,1460 78.12,1475 81.25,1475.62 83.75,1490.62 98.75,1490.62 102.5,1498.12 251,1498.12 757,1498.1" stroke="#ff0000"/>
<polyline points="75.5,1455 80,1475 81.88,1496.25 106.25,1496.5 108.12,1507.5 109.38,1598.12 251,1598.12 757,1598.1" stroke="#00ff00"/>
<polyline points="76,1367.5 76.25,1373.12 81.88,1373.12 84.38,1373.75 85.62,1500 86.88,1520.62 165,1520.62 166.88,1522.25 251,1522.25 757,1522.25" stroke="#ffff00"/>
<polyline points="74.38,1280 75,1460 75.25,1472.5 151.25,1472.75 152.5,1480 251,1480.25 267,1480.25 268.5,1537.8 757,1537.8" stroke="#0000ff"/>
<polyline points="75,1297.5 76.88,1355 78.12,1370.62 83.12,1371.25 85.62,1453.75 88.75,1454 91.25,1458.75 105,1459.38 106.25,1464.38 109.38,1465.62 111.88,1477.5 113.12,1537.5 115,1549.38 116.25,1551.25 118.12,1598.75 120,1613.12 124.38,1613.75 126.25,1623.75 127.5,1625 128.75,1638.12 145,1638.5" stroke="#ff00ff"/>
<polyline points="73.75,1239.38 74.38,1292.5 75.62,1367.5 76.88,1441.25 79.38,1441.88 81.25,1446.88 83.75,1447.5 86.88,1472.5 98.12,1472.75 98.75,1532.5 101.88,1533.75 105,1538.5 204.38,1538.5 206.88,1541.88 208.75,1638.12" stroke="#00ffff"/>
<polyline points="74.38,1459.75 80.62,1459.75 81.88,1470 83.75,1508.12 86.25,1509.38 141.25,1509.38 142.5,1627.5 145,1638.12 251,1638.5 757,1638.5" stroke="#000000"/>
</g>
<text x="73.3" y="1696" class="tk" text-anchor="middle">0</text>
<text x="143.43" y="1696" class="tk" text-anchor="middle">50</text>
<text x="213.56" y="1696" class="tk" text-anchor="middle">100</text>
<text x="283.69" y="1696" class="tk" text-anchor="middle">150</text>
<text x="353.82" y="1696" class="tk" text-anchor="middle">200</text>
<text x="423.95" y="1696" class="tk" text-anchor="middle">250</text>
<text x="494.08" y="1696" class="tk" text-anchor="middle">300</text>
<text x="564.21" y="1696" class="tk" text-anchor="middle">350</text>
<text x="634.34" y="1696" class="tk" text-anchor="middle">400</text>
<text x="704.47" y="1696" class="tk" text-anchor="middle">450</text>
<text x="52.2" y="1313.3" class="tk" text-anchor="end">10<tspan dx="-1.2" dy="-7" class="sup">2</tspan></text>
<text x="52.2" y="1480.3" class="tk" text-anchor="end">10<tspan dx="-1.2" dy="-7" class="sup">1</tspan></text>
<text x="52.2" y="1647.3" class="tk" text-anchor="end">10<tspan dx="-1.2" dy="-7" class="sup">0</tspan></text>
<text x="408.95" y="1716.2" class="lab" text-anchor="middle">Iterations</text>
<text transform="translate(17.2 1456.75) rotate(-90)" class="lab" text-anchor="middle">Best score</text>
<rect x="614.4" y="1252.7" width="130" height="123.4" fill="#fff" stroke="#262626" stroke-width="1.2"/>
<path d="M619.3 1263.3H666.5" stroke="#ff0000" stroke-width="1.6"/>
<text x="670.6" y="1268.4" class="lg">PSO</text>
<path d="M619.3 1280.38H666.5" stroke="#00ff00" stroke-width="1.6"/>
<text x="670.6" y="1285.48" class="lg">GSA</text>
<path d="M619.3 1297.46H666.5" stroke="#ffff00" stroke-width="1.6"/>
<text x="670.6" y="1302.56" class="lg">SSA</text>
<path d="M619.3 1314.54H666.5" stroke="#0000ff" stroke-width="1.6"/>
<text x="670.6" y="1319.64" class="lg">TSA</text>
<path d="M619.3 1331.62H666.5" stroke="#ff00ff" stroke-width="1.6"/>
<text x="670.6" y="1336.72" class="lg">MVO</text>
<path d="M619.3 1348.7H666.5" stroke="#00ffff" stroke-width="1.6"/>
<text x="670.6" y="1353.8" class="lg">AVOA</text>
<path d="M619.3 1365.78H666.5" stroke="#000000" stroke-width="1.6"/>
<text x="670.6" y="1370.88" class="lg">EOBAVOA</text>
<text x="412.6" y="1227.9" class="ti" text-anchor="middle">F14</text>
<text x="355.7" y="1752.7" class="cap">(m)</text>
<text x="421.6" y="1752.7" class="cap">F14</text>
<clipPath id="c5"><rect x="866.4" y="1238.7" width="698.4" height="437.1"/></clipPath>
<path d="M872.9 1675V1667.3M872.9 1239.5V1247.2M942.71 1675V1667.3M942.71 1239.5V1247.2M1012.52 1675V1667.3M1012.52 1239.5V1247.2M1082.33 1675V1667.3M1082.33 1239.5V1247.2M1152.14 1675V1667.3M1152.14 1239.5V1247.2M1221.95 1675V1667.3M1221.95 1239.5V1247.2M1291.76 1675V1667.3M1291.76 1239.5V1247.2M1361.57 1675V1667.3M1361.57 1239.5V1247.2M1431.38 1675V1667.3M1431.38 1239.5V1247.2M1501.19 1675V1667.3M1501.19 1239.5V1247.2M867.2 1670.34H871.4M1564 1670.34H1559.8M867.2 1646.12H871.4M1564 1646.12H1559.8M867.2 1628.94H871.4M1564 1628.94H1559.8M867.2 1615.61H871.4M1564 1615.61H1559.8M867.2 1604.72H871.4M1564 1604.72H1559.8M867.2 1595.51H871.4M1564 1595.51H1559.8M867.2 1587.53H871.4M1564 1587.53H1559.8M867.2 1580.49H871.4M1564 1580.49H1559.8M867.2 1574.2H874.9M1564 1574.2H1556.3M867.2 1532.79H871.4M1564 1532.79H1559.8M867.2 1508.57H871.4M1564 1508.57H1559.8M867.2 1491.39H871.4M1564 1491.39H1559.8M867.2 1478.06H871.4M1564 1478.06H1559.8M867.2 1467.17H871.4M1564 1467.17H1559.8M867.2 1457.96H871.4M1564 1457.96H1559.8M867.2 1449.98H871.4M1564 1449.98H1559.8M867.2 1442.94H871.4M1564 1442.94H1559.8M867.2 1436.65H874.9M1564 1436.65H1556.3M867.2 1395.24H871.4M1564 1395.24H1559.8M867.2 1371.02H871.4M1564 1371.02H1559.8M867.2 1353.84H871.4M1564 1353.84H1559.8M867.2 1340.51H871.4M1564 1340.51H1559.8M867.2 1329.62H871.4M1564 1329.62H1559.8M867.2 1320.41H871.4M1564 1320.41H1559.8M867.2 1312.43H871.4M1564 1312.43H1559.8M867.2 1305.39H871.4M1564 1305.39H1559.8M867.2 1299.1H874.9M1564 1299.1H1556.3M867.2 1257.69H871.4M1564 1257.69H1559.8" stroke="#262626" stroke-width="1.5" fill="none"/>
<rect x="867.2" y="1239.5" width="696.8" height="435.5" fill="none" stroke="#262626" stroke-width="1.5"/>
<g clip-path="url(#c5)" fill="none" stroke-width="1.6" stroke-linejoin="round" stroke-linecap="round">
<polyline points="874,1396.25 875.25,1410 877.12,1417.5 878.38,1460 878.38,1468.75 897.12,1468.75 897.75,1489.75 917.75,1489.75 919,1516.88 947.12,1516.88 948.38,1526.5 959.62,1526.5 960.88,1537.5 976.5,1537.5 977.75,1539 989,1539 992.75,1547.25 1002.75,1547.25 1004,1561.88 1026.5,1561.88 1027.75,1562.5 1060,1562.5 1098.5,1563 1100.5,1578.25 1136,1578.25 1138.5,1582 1173.5,1582 1221,1583 1231,1583.25 1331,1583.75 1368.5,1584.25 1448,1585 1564,1585.5" stroke="#ff0000"/>
<polyline points="875.5,1300 876.5,1320 887.12,1320.25 888.38,1333.12 895.25,1333.5 896.5,1353.12 901.5,1353.5 904,1354.75 905.25,1376.5 912.12,1376.88 913.38,1433.12 930.25,1433.12 931.5,1440 1060,1440 1564,1439.5" stroke="#00ff00"/>
<polyline points="874.5,1405 874.62,1409.38 892.75,1409.38 893.38,1448.75 897.12,1450 899,1460 899.62,1468.75 922.12,1468.75 923.38,1491.25 925.25,1491.88 927.75,1494.38 1005.25,1494.38 1006.5,1512.5 1007.75,1513.12 1009.62,1536.25 1045.88,1536.25 1047.75,1539 1060,1539 1147.25,1539.5 1149.75,1544.25 1156,1545.5 1172.25,1545.5 1174.75,1552 1181,1552.5 1183.5,1556.25 1233.5,1556.25 1246,1558.75 1273.5,1560 1296,1562.5 1331,1563.75 1361,1565 1406,1565.75 1448,1565.75 1564,1565.75" stroke="#ffff00"/>
<polyline points="874,1311.25 874.62,1355 876.5,1373.75 878.38,1386.25 880.25,1391.25 882.75,1395 884,1413.12 886.5,1420 889.62,1420.62 890.88,1426.25 895.25,1430 899,1438.75 901.5,1440 904,1445 909,1446.25 911.5,1448.75 915.25,1449.38 919,1455 921.5,1456.88 924,1458.75 930.25,1460.62 950.88,1460.62 952.75,1463.5 960.25,1465.62 962.12,1469.62 972.12,1469.62 973.38,1474.38 980.25,1476.25 982.12,1479 987.75,1479.38 989,1481.88 994,1483.75 999,1486.62 1005.25,1487.75 1010.88,1488.75 1012.75,1492.12 1020.88,1492.5 1024,1497.5 1025.25,1508.12 1033.38,1508.38 1035.25,1512.12 1041.5,1512.5 1044,1513.75 1051.5,1513.75 1054,1515.62 1060,1515.62 1069.75,1515 1072.25,1519.25 1076,1520 1081,1527 1088.5,1527.5 1091,1530.75 1097.25,1531.25 1099.75,1537.5 1102.25,1550 1116,1550.5 1121,1553 1122.25,1566.25 1143.5,1566.25 1146,1574.25 1150.5,1574.5 1152.25,1581.25 1173.5,1581.75 1176,1585.5 1183.5,1586.25 1184.75,1589.25 1207.25,1590 1209.75,1597 1216,1597.5 1218.5,1601.25 1254.75,1601.25 1257.25,1605 1343.5,1605 1346,1606.25 1368.5,1606.25 1371,1607.5 1411,1608 1413.5,1610.75 1448,1610.75 1564,1610.75" stroke="#0000ff"/>
<polyline points="875.25,1255 876.5,1305 877.12,1386.88 879,1387.25 889,1387.5 894,1388.12 897.75,1391.25 905.25,1392.12 954,1392.12 957.12,1393.75 976.5,1394 1060,1394 1564,1394.5" stroke="#ff00ff"/>
<polyline points="874.62,1239.38 875.25,1292.5 875.88,1355 876.5,1392.5 879.62,1402.5 880.88,1430 881.5,1450 884,1466.25 885.25,1487.5 886.5,1513.12 890.25,1517.5 896.5,1522.5 899,1530 904,1536.25 905.25,1540.62 909,1543.75 914,1544.38 916.5,1545.62 921.5,1545.88 924,1548.75 934,1548.75 941.5,1552.5 946.5,1560 949,1565 950.88,1577.5 954,1586.25 956.5,1588.75 965.88,1588.75 970.25,1595.62 976.5,1598.12 986.5,1598.5 990.25,1601.25 1000.25,1603.12 1004,1606.25 1024,1608.12 1036.5,1608.75 1039,1610 1044,1610.62 1046.5,1612.5 1050.25,1613.12 1054,1616.25 1060,1619.38 1061,1618.75 1071,1621.25 1093.5,1622.5 1098.5,1625 1113.5,1626.75 1151,1628 1158.5,1629.25 1186,1630.75 1228.5,1632.5 1238.5,1634.5 1256,1635 1261,1636.25 1303.5,1637.5 1306,1640 1356,1641.25 1406,1643 1448,1643.75 1564,1644.5" stroke="#00ffff"/>
<polyline points="874.62,1402.5 875.88,1460 879,1543.75 880.88,1607.5 882.75,1615.62 884.62,1617.5 885.88,1631.25 891.5,1632.25 924,1632.5 926.5,1633.5 931.5,1633.75 934.62,1635.62 946.5,1636 949,1637.75 955.25,1639 981.5,1639.38 987.75,1641 1005.25,1641.25 1011.5,1641.88 1060,1641.88 1106,1643 1181,1643.75 1448,1644.25 1564,1644.5" stroke="#000000"/>
</g>
<text x="873.8" y="1695.8" class="tk" text-anchor="middle">0</text>
<text x="943.61" y="1695.8" class="tk" text-anchor="middle">50</text>
<text x="1013.42" y="1695.8" class="tk" text-anchor="middle">100</text>
<text x="1083.23" y="1695.8" class="tk" text-anchor="middle">150</text>
<text x="1153.04" y="1695.8" class="tk" text-anchor="middle">200</text>
<text x="1222.85" y="1695.8" class="tk" text-anchor="middle">250</text>
<text x="1292.66" y="1695.8" class="tk" text-anchor="middle">300</text>
<text x="1362.47" y="1695.8" class="tk" text-anchor="middle">350</text>
<text x="1432.28" y="1695.8" class="tk" text-anchor="middle">400</text>
<text x="1502.09" y="1695.8" class="tk" text-anchor="middle">450</text>
<text x="861.5" y="1307.9" class="tk" text-anchor="end">10<tspan dx="-1.2" dy="-7" class="sup">-1</tspan></text>
<text x="861.5" y="1445.45" class="tk" text-anchor="end">10<tspan dx="-1.2" dy="-7" class="sup">-2</tspan></text>
<text x="861.5" y="1583" class="tk" text-anchor="end">10<tspan dx="-1.2" dy="-7" class="sup">-3</tspan></text>
<text x="1217.1" y="1716" class="lab" text-anchor="middle">Iterations</text>
<text transform="translate(823.6 1456.65) rotate(-90)" class="lab" text-anchor="middle">Best score</text>
<rect x="1421.4" y="1252.7" width="130" height="123.4" fill="#fff" stroke="#262626" stroke-width="1.2"/>
<path d="M1426.3 1263.3H1473.5" stroke="#ff0000" stroke-width="1.6"/>
<text x="1477.6" y="1268.4" class="lg">PSO</text>
<path d="M1426.3 1280.38H1473.5" stroke="#00ff00" stroke-width="1.6"/>
<text x="1477.6" y="1285.48" class="lg">GSA</text>
<path d="M1426.3 1297.46H1473.5" stroke="#ffff00" stroke-width="1.6"/>
<text x="1477.6" y="1302.56" class="lg">SSA</text>
<path d="M1426.3 1314.54H1473.5" stroke="#0000ff" stroke-width="1.6"/>
<text x="1477.6" y="1319.64" class="lg">TSA</text>
<path d="M1426.3 1331.62H1473.5" stroke="#ff00ff" stroke-width="1.6"/>
<text x="1477.6" y="1336.72" class="lg">MVO</text>
<path d="M1426.3 1348.7H1473.5" stroke="#00ffff" stroke-width="1.6"/>
<text x="1477.6" y="1353.8" class="lg">AVOA</text>
<path d="M1426.3 1365.78H1473.5" stroke="#000000" stroke-width="1.6"/>
<text x="1477.6" y="1370.88" class="lg">EOBAVOA</text>
<text x="1221" y="1227.9" class="ti" text-anchor="middle">F15</text>
<text x="1168" y="1752.5" class="cap">(n)</text>
<text x="1234.8" y="1752.5" class="cap">F15</text>
<clipPath id="c6"><rect x="57.1" y="1839.5" width="700.7" height="437.3"/></clipPath>
<path d="M78.7 2276V2268.3M78.7 1840.3V1848M148.76 2276V2268.3M148.76 1840.3V1848M218.82 2276V2268.3M218.82 1840.3V1848M288.88 2276V2268.3M288.88 1840.3V1848M358.94 2276V2268.3M358.94 1840.3V1848M429 2276V2268.3M429 1840.3V1848M499.06 2276V2268.3M499.06 1840.3V1848M569.12 2276V2268.3M569.12 1840.3V1848M639.18 2276V2268.3M639.18 1840.3V1848M709.24 2276V2268.3M709.24 1840.3V1848M57.9 2243.11H62.1M757 2243.11H752.8M57.9 2210.69H62.1M757 2210.69H752.8M57.9 2184.21H62.1M757 2184.21H752.8M57.9 2161.81H62.1M757 2161.81H752.8M57.9 2142.42H62.1M757 2142.42H752.8M57.9 2125.31H62.1M757 2125.31H752.8M57.9 2110H65.6M757 2110H749.3M57.9 2009.31H62.1M757 2009.31H752.8M57.9 1950.4H62.1M757 1950.4H752.8M57.9 1908.61H62.1M757 1908.61H752.8M57.9 1876.19H62.1M757 1876.19H752.8M57.9 1849.71H62.1M757 1849.71H752.8" stroke="#262626" stroke-width="1.5" fill="none"/>
<rect x="57.9" y="1840.3" width="699.1" height="435.7" fill="none" stroke="#262626" stroke-width="1.5"/>
<g clip-path="url(#c6)" fill="none" stroke-width="1.6" stroke-linejoin="round" stroke-linecap="round">
<polyline points="80.5,2180 84.38,2191.25 86.25,2200 87.5,2228.75 90,2231.88 91.25,2235 95.62,2235.25 97.5,2240.88 106.25,2241.25 107.5,2242.75 155,2243.12 251,2244.12 757,2244.2" stroke="#ff0000"/>
<polyline points="79.38,1981.88 81.25,2150 84.38,2156.25 87.5,2156.5 88.75,2174.38 95,2174.62 96.88,2218.12 129.38,2218.12 130.62,2223.12 139.38,2223.38 140.62,2243.12 251,2243.5 757,2244" stroke="#00ff00"/>
<polyline points="83,1840.3 84.38,1989.38 131.88,1989.38 133.12,2170.62 267.74,2170.66 269.08,2211.6 339.1,2211.6 340.44,2216.96 341.78,2217.34 343.31,2242.21 421.75,2242.21 423.66,2242.79 499.23,2242.79 520,2244 757,2244" stroke="#ffff00"/>
<polyline points="80,2109.38 80.62,2150 81.25,2237.5 83.12,2243.12 251,2244.38 757,2244.4" stroke="#0000ff"/>
<polyline points="79.38,1916.25 81.88,2150 84.38,2157.75 103.75,2157.75 105,2185 106.88,2186.25 108.12,2212.5 110,2213.12 111.25,2230 130,2230 131.5,2237.5 196.25,2237.5 198.12,2239 207.5,2239.38 208.75,2240.62 262,2239.92 263.91,2240.87 290.7,2240.87 292.04,2241.83 302.18,2242.21 320,2244 757,2244" stroke="#ff00ff"/>
<polyline points="80,1903.12 81.88,2050 83.75,2150 85,2240 90,2240.62 92.5,2243.75 105,2245 251,2244.75 757,2244.6" stroke="#00ffff"/>
<polyline points="80.62,2058.12 82.5,2125 84.38,2241.25 88.12,2241.88 90.62,2244 105,2244.38 251,2244.38 757,2244.4" stroke="#000000"/>
</g>
<text x="79.6" y="2296.8" class="tk" text-anchor="middle">0</text>
<text x="149.66" y="2296.8" class="tk" text-anchor="middle">50</text>
<text x="219.72" y="2296.8" class="tk" text-anchor="middle">100</text>
<text x="289.78" y="2296.8" class="tk" text-anchor="middle">150</text>
<text x="359.84" y="2296.8" class="tk" text-anchor="middle">200</text>
<text x="429.9" y="2296.8" class="tk" text-anchor="middle">250</text>
<text x="499.96" y="2296.8" class="tk" text-anchor="middle">300</text>
<text x="570.02" y="2296.8" class="tk" text-anchor="middle">350</text>
<text x="640.08" y="2296.8" class="tk" text-anchor="middle">400</text>
<text x="710.14" y="2296.8" class="tk" text-anchor="middle">450</text>
<text x="52.2" y="2118.8" class="tk" text-anchor="end">10<tspan dx="-1.2" dy="-7" class="sup">0</tspan></text>
<text x="408.95" y="2317" class="lab" text-anchor="middle">Iterations</text>
<text transform="translate(17.6 2057.55) rotate(-90)" class="lab" text-anchor="middle">Best score</text>
<rect x="614.4" y="1853.5" width="130" height="123.4" fill="#fff" stroke="#262626" stroke-width="1.2"/>
<path d="M619.3 1864.1H666.5" stroke="#ff0000" stroke-width="1.6"/>
<text x="670.6" y="1869.2" class="lg">PSO</text>
<path d="M619.3 1881.18H666.5" stroke="#00ff00" stroke-width="1.6"/>
<text x="670.6" y="1886.28" class="lg">GSA</text>
<path d="M619.3 1898.26H666.5" stroke="#ffff00" stroke-width="1.6"/>
<text x="670.6" y="1903.36" class="lg">SSA</text>
<path d="M619.3 1915.34H666.5" stroke="#0000ff" stroke-width="1.6"/>
<text x="670.6" y="1920.44" class="lg">TSA</text>
<path d="M619.3 1932.42H666.5" stroke="#ff00ff" stroke-width="1.6"/>
<text x="670.6" y="1937.52" class="lg">MVO</text>
<path d="M619.3 1949.5H666.5" stroke="#00ffff" stroke-width="1.6"/>
<text x="670.6" y="1954.6" class="lg">AVOA</text>
<path d="M619.3 1966.58H666.5" stroke="#000000" stroke-width="1.6"/>
<text x="670.6" y="1971.68" class="lg">EOBAVOA</text>
<text x="412.6" y="1828.7" class="ti" text-anchor="middle">F17</text>
<text x="355.7" y="2353.5" class="cap">(o)</text>
<text x="422.6" y="2353.5" class="cap">F17</text>
<clipPath id="c7"><rect x="863.2" y="1839.5" width="700.8" height="437.3"/></clipPath>
<path d="M899.2 2276V2268.3M899.2 1840.3V1848M969.29 2276V2268.3M969.29 1840.3V1848M1039.38 2276V2268.3M1039.38 1840.3V1848M1109.47 2276V2268.3M1109.47 1840.3V1848M1179.56 2276V2268.3M1179.56 1840.3V1848M1249.65 2276V2268.3M1249.65 1840.3V1848M1319.74 2276V2268.3M1319.74 1840.3V1848M1389.83 2276V2268.3M1389.83 1840.3V1848M1459.92 2276V2268.3M1459.92 1840.3V1848M1530.01 2276V2268.3M1530.01 1840.3V1848M864 2234.28H868.2M1563.2 2234.28H1559M864 2198.61H868.2M1563.2 2198.61H1559M864 2170.94H868.2M1563.2 2170.94H1559M864 2148.34H868.2M1563.2 2148.34H1559M864 2129.22H868.2M1563.2 2129.22H1559M864 2112.67H868.2M1563.2 2112.67H1559M864 2098.06H868.2M1563.2 2098.06H1559M864 2085H871.7M1563.2 2085H1555.5M864 1999.06H868.2M1563.2 1999.06H1559M864 1948.78H868.2M1563.2 1948.78H1559M864 1913.11H868.2M1563.2 1913.11H1559M864 1885.44H868.2M1563.2 1885.44H1559M864 1862.84H868.2M1563.2 1862.84H1559M864 1843.72H868.2M1563.2 1843.72H1559" stroke="#262626" stroke-width="1.5" fill="none"/>
<rect x="864" y="1840.3" width="699.2" height="435.7" fill="none" stroke="#262626" stroke-width="1.5"/>
<g clip-path="url(#c7)" fill="none" stroke-width="1.6" stroke-linejoin="round" stroke-linecap="round">
<polyline points="903.9,1840.3 905.12,1942.5 905.12,2200 906.38,2228.12 968.25,2229 970.75,2230 980.75,2230.38 1058,2233.75 1100,2233.9 1563.2,2233.9" stroke="#ff0000"/>
<polyline points="900.75,2205 904.5,2213.75 1005.75,2213.75 1008.25,2226.25 1015.75,2226.88 1017,2228.75 1039.5,2228.75 1043.25,2230.62 1058,2231.25 1100,2233.5 1563.2,2234" stroke="#00ff00"/>
<polyline points="902,1985.62 920.12,1985.62 929.5,2226.25 1039.5,2226.88 1042,2230.62 1058,2231.88 1156,2232.8 1563.2,2234" stroke="#ffff00"/>
<polyline points="900.5,2180 901.38,2212.5 903.25,2233.12 907,2233.75 1058,2234 1563.2,2234" stroke="#0000ff"/>
<polyline points="900.75,2132.5 902,2133.12 903.25,2221.25 945.12,2221.5 947,2227.5 949.5,2230.62 1058,2233.12 1563.2,2234" stroke="#ff00ff"/>
<polyline points="900.75,1941.5 904.5,1941.88 906.38,2125 908.25,2200 909.5,2222.5 912,2230.62 930.75,2233.75 1058,2234 1563.2,2234" stroke="#00ffff"/>
<polyline points="900.75,2148.75 902,2187.5 903.88,2212.5 907,2222.5 910.75,2226 919.5,2226.25 922,2229.38 925.75,2230.62 944.5,2231 947,2233.12 962,2233.75 1058,2234 1563.2,2234" stroke="#000000"/>
</g>
<text x="900.1" y="2296.8" class="tk" text-anchor="middle">0</text>
<text x="970.19" y="2296.8" class="tk" text-anchor="middle">50</text>
<text x="1040.28" y="2296.8" class="tk" text-anchor="middle">100</text>
<text x="1110.37" y="2296.8" class="tk" text-anchor="middle">150</text>
<text x="1180.46" y="2296.8" class="tk" text-anchor="middle">200</text>
<text x="1250.55" y="2296.8" class="tk" text-anchor="middle">250</text>
<text x="1320.64" y="2296.8" class="tk" text-anchor="middle">300</text>
<text x="1390.73" y="2296.8" class="tk" text-anchor="middle">350</text>
<text x="1460.82" y="2296.8" class="tk" text-anchor="middle">400</text>
<text x="1530.91" y="2296.8" class="tk" text-anchor="middle">450</text>
<text x="858.3" y="2093.8" class="tk" text-anchor="end">10<tspan dx="-1.2" dy="-7" class="sup">1</tspan></text>
<text x="1215.1" y="2317" class="lab" text-anchor="middle">Iterations</text>
<text transform="translate(824.1 2057.55) rotate(-90)" class="lab" text-anchor="middle">Best score</text>
<rect x="1420.6" y="1853.5" width="130" height="123.4" fill="#fff" stroke="#262626" stroke-width="1.2"/>
<path d="M1425.5 1864.1H1472.7" stroke="#ff0000" stroke-width="1.6"/>
<text x="1476.8" y="1869.2" class="lg">PSO</text>
<path d="M1425.5 1881.18H1472.7" stroke="#00ff00" stroke-width="1.6"/>
<text x="1476.8" y="1886.28" class="lg">GSA</text>
<path d="M1425.5 1898.26H1472.7" stroke="#ffff00" stroke-width="1.6"/>
<text x="1476.8" y="1903.36" class="lg">SSA</text>
<path d="M1425.5 1915.34H1472.7" stroke="#0000ff" stroke-width="1.6"/>
<text x="1476.8" y="1920.44" class="lg">TSA</text>
<path d="M1425.5 1932.42H1472.7" stroke="#ff00ff" stroke-width="1.6"/>
<text x="1476.8" y="1937.52" class="lg">MVO</text>
<path d="M1425.5 1949.5H1472.7" stroke="#00ffff" stroke-width="1.6"/>
<text x="1476.8" y="1954.6" class="lg">AVOA</text>
<path d="M1425.5 1966.58H1472.7" stroke="#000000" stroke-width="1.6"/>
<text x="1476.8" y="1971.68" class="lg">EOBAVOA</text>
<text x="1219.5" y="1828.7" class="ti" text-anchor="middle">F18</text>
<text x="1168" y="2353.5" class="cap">(p)</text>
<text x="1234.8" y="2353.5" class="cap">F18</text>
</svg></body></html>
